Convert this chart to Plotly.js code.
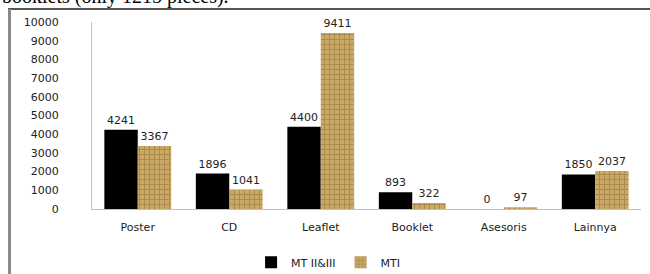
<!DOCTYPE html>
<html>
<head>
<meta charset="utf-8">
<script src="https://cdn.plot.ly/plotly-3.0.1.min.js"></script>
<style>html,body{margin:0;padding:0;background:#fff}#chart{width:650px;height:274px}</style>
</head>
<body>
<div id="chart"></div>
<script>
var categories = ["Poster", "CD", "Leaflet", "Booklet", "Asesoris", "Lainnya"];
var mt23 = [4241, 1896, 4400, 893, 0, 1850];
var mt1 = [3367, 1041, 9411, 322, 97, 2037];
var seriesNames = ["MT II&III", "MTI"];
var yTicks = [0, 1000, 2000, 3000, 4000, 5000, 6000, 7000, 8000, 9000, 10000];
var headerText = "booklets (only 1215 pieces).";

var font = {family: "DejaVu Sans, Verdana, sans-serif", size: 11, color: "#222"};

var traces = [
  {
    type: "bar", name: seriesNames[0], x: categories, y: mt23,
    text: mt23.map(String), textposition: "outside", cliponaxis: false,
    textfont: {family: font.family, size: 11, color: "#222"},
    marker: {color: "#000000", line: {width: 0}}
  },
  {
    type: "bar", name: seriesNames[1], x: categories, y: mt1,
    text: mt1.map(String), textposition: "outside", cliponaxis: false,
    textfont: {family: font.family, size: 11, color: "#222"},
    marker: {color: "#c8a868", line: {width: 0},
      pattern: {shape: "+", bgcolor: "#caa967", fgcolor: "#8c6a32", size: 5, solidity: 0.35, fillmode: "overlay"}}
  }
];

var layout = {
  width: 650, height: 274,
  margin: {l: 92, r: 9, t: 22, b: 65, autoexpand: false},
  paper_bgcolor: "#ffffff", plot_bgcolor: "#ffffff",
  font: font,
  barmode: "group", bargap: 0.27, bargroupgap: 0,
  showlegend: true,
  legend: {orientation: "h", x: 0.43, xanchor: "center", y: -0.285, yanchor: "middle",
    font: {family: font.family, size: 11, color: "#222"}, itemwidth: 30, tracegroupgap: 0},
  xaxis: {
    type: "category", showline: true, linecolor: "#c0c0c0", linewidth: 1,
    ticks: "", showgrid: false, tickfont: {family: font.family, size: 11, color: "#222"},
    zeroline: false, ticklabelstandoff: 8
  },
  yaxis: {
    range: [0, 10000], tickvals: yTicks, ticktext: yTicks.map(String),
    showline: true, linecolor: "#c0c0c0", linewidth: 1, showgrid: false, zeroline: false,
    ticks: "", ticklabelstandoff: 30, tickfont: {family: font.family, size: 11, color: "#222"}
  },
  shapes: [
    {type: "line", xref: "paper", yref: "paper", x0: -84/549, x1: 1.02, y0: 1 + 13/187, y1: 1 + 13/187,
      line: {color: "#555555", width: 2}},
    {type: "line", xref: "paper", yref: "paper", x0: -82.5/549, x1: -82.5/549, y0: 1 + 13/187, y1: -0.4,
      line: {color: "#8a8a8a", width: 3}}
  ],
  annotations: [
    {text: headerText, xref: "paper", yref: "paper", x: -92/549, xanchor: "left",
      y: 1 + 24/187, yanchor: "bottom", showarrow: false, yshift: -12,
      font: {family: "Liberation Serif, Times New Roman, serif", size: 20, color: "#000"}}
  ]
};

Plotly.newPlot("chart", traces, layout, {displayModeBar: false, staticPlot: true});
</script>
</body>
</html>
